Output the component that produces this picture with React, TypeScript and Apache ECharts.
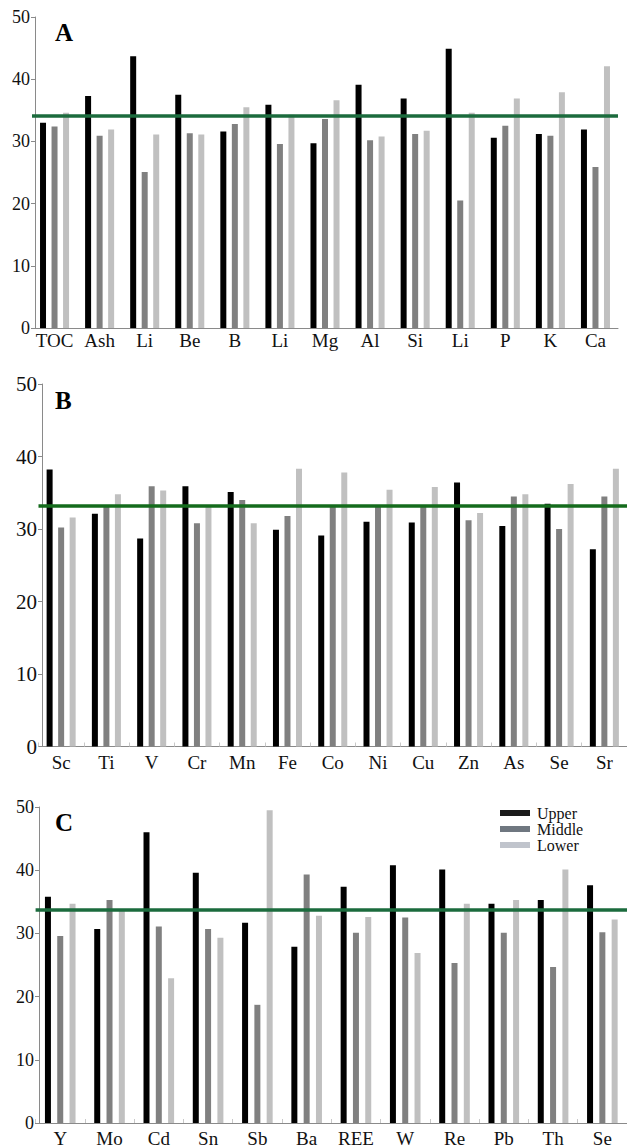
import React, { useEffect, useRef } from 'react';
import * as echarts from 'echarts';

// ---------- data ----------
const seriesNames = ['Upper', 'Middle', 'Lower'];

const categoriesA = ['TOC', 'Ash', 'Li', 'Be', 'B', 'Li', 'Mg', 'Al', 'Si', 'Li', 'P', 'K', 'Ca'];
const upperA = [33.0, 37.3, 43.7, 37.5, 31.6, 35.9, 29.7, 39.1, 36.9, 44.9, 30.6, 31.2, 31.9];
const middleA = [32.4, 30.9, 25.1, 31.3, 32.8, 29.6, 33.6, 30.2, 31.2, 20.5, 32.5, 30.9, 25.9];
const lowerA = [34.6, 31.9, 31.1, 31.1, 35.5, 34.3, 36.6, 30.8, 31.7, 34.6, 36.9, 37.9, 42.1];
const averageA = 34.2;

const categoriesB = ['Sc', 'Ti', 'V', 'Cr', 'Mn', 'Fe', 'Co', 'Ni', 'Cu', 'Zn', 'As', 'Se', 'Sr'];
const upperB = [38.2, 32.1, 28.7, 35.9, 35.1, 29.9, 29.1, 31.0, 30.9, 36.4, 30.4, 33.5, 27.2];
const middleB = [30.2, 33.1, 35.9, 30.8, 34.0, 31.8, 33.1, 33.1, 33.1, 31.2, 34.5, 30.0, 34.5];
const lowerB = [31.6, 34.8, 35.3, 33.1, 30.8, 38.3, 37.8, 35.4, 35.8, 32.2, 34.8, 36.2, 38.3];
const averageB = 33.2;

const categoriesC = ['Y', 'Mo', 'Cd', 'Sn', 'Sb', 'Ba', 'REE', 'W', 'Re', 'Pb', 'Th', 'Se'];
const upperC = [35.8, 30.7, 46.0, 39.6, 31.7, 27.9, 37.4, 40.8, 40.1, 34.7, 35.3, 37.6];
const middleC = [29.6, 35.3, 31.1, 30.7, 18.7, 39.3, 30.1, 32.5, 25.3, 30.1, 24.7, 30.2];
const lowerC = [34.7, 33.7, 22.9, 29.3, 49.5, 32.8, 32.6, 26.9, 34.7, 35.3, 40.1, 32.2];
const averageC = 33.8;

const panelLetters = ['A', 'B', 'C'];
const yMin = 0;
const yMax = 50;
const yInterval = 10;

// ---------- styling ----------
const SERIF = 'Liberation Serif';
const barColors = ['#000000', '#808080', '#c0c0c0'];
const legendColors = ['#1a1a1a', '#6f7780', '#c0c4cc'];

export default function App() {
  const ref = useRef<HTMLDivElement>(null);

  useEffect(() => {
    if (!ref.current) return;
    const chart = echarts.init(ref.current, null, { renderer: 'svg' });

    const panels = [
      {
        cats: categoriesA, vals: [upperA, middleA, lowerA], avg: averageA,
        grid: { left: 32, top: 17, width: 586, height: 311 },
        yOffset: -3, yFont: 18, xFont: 19, xMargin: 3, barGap: '92%', ticks: false,
        lineColor: '#1b6b3d', letterY: 20,
      },
      {
        cats: categoriesB, vals: [upperB, middleB, lowerB], avg: averageB,
        grid: { left: 38.5, top: 384, width: 598.6, height: 362.5 },
        yOffset: -3.5, yFont: 21, xFont: 19, xMargin: 6, barGap: '92%', ticks: true,
        lineColor: '#146b1c', letterY: 388,
      },
      {
        cats: categoriesC, vals: [upperC, middleC, lowerC], avg: averageC,
        grid: { left: 35.6, top: 807, width: 592.3, height: 316.5 },
        yOffset: -3.4, yFont: 18, xFont: 19, xMargin: 6, barGap: '105%', ticks: true,
        lineColor: '#1b6b3d', letterY: 810,
      },
    ];

    const grids: any[] = [];
    const xAxes: any[] = [];
    const yAxes: any[] = [];
    const series: any[] = [];
    const graphics: any[] = [];

    panels.forEach((p, i) => {
      grids.push({ ...p.grid, containLabel: false });
      xAxes.push({
        type: 'category',
        gridIndex: i,
        data: p.cats,
        boundaryGap: true,
        axisLine: { show: true, lineStyle: { color: '#8a8a8a', width: 1 } },
        axisTick: {
          show: p.ticks, inside: true, length: 4, alignWithLabel: false,
          lineStyle: { color: '#c8c8c8' },
        },
        axisLabel: {
          interval: 0, margin: p.xMargin, color: '#111',
          fontFamily: SERIF, fontSize: p.xFont,
        },
        splitLine: { show: false },
      });
      yAxes.push({
        type: 'value',
        gridIndex: i,
        min: yMin, max: yMax, interval: yInterval,
        offset: p.yOffset,
        axisLine: { show: true, lineStyle: { color: '#8a8a8a', width: 1 } },
        axisTick: { show: true, length: 4, lineStyle: { color: '#8a8a8a' } },
        axisLabel: { margin: 5, color: '#111', fontFamily: SERIF, fontSize: p.yFont },
        splitLine: { show: false },
      });
      seriesNames.forEach((name, k) => {
        const s: any = {
          type: 'bar',
          name,
          xAxisIndex: i,
          yAxisIndex: i,
          data: p.vals[k],
          barWidth: 6,
          barGap: p.barGap,
          itemStyle: { color: barColors[k] },
          emphasis: { disabled: true },
        };
        if (k === 0) {
          s.markLine = {
            silent: true,
            symbol: 'none',
            label: { show: false },
            lineStyle: { color: p.lineColor, width: 3.5, type: 'solid' },
            data: [{ yAxis: p.avg }],
            z: 10,
          };
        }
        series.push(s);
      });
      graphics.push({
        type: 'text',
        left: 55,
        top: p.letterY,
        style: {
          text: panelLetters[i],
          fontFamily: SERIF,
          fontWeight: 'bold',
          fontSize: 25,
          fill: '#000',
        },
      });
    });

    chart.setOption({
      animation: false,
      backgroundColor: '#ffffff',
      grid: grids,
      xAxis: xAxes,
      yAxis: yAxes,
      series,
      graphic: graphics,
      legend: {
        orient: 'vertical',
        left: 495,
        top: 800,
        itemWidth: 30,
        itemHeight: 6,
        itemGap: 0,
        icon: 'rect',
        selectedMode: false,
        textStyle: { fontFamily: SERIF, fontSize: 16, color: '#111', padding: [0, 0, 0, 2] },
        data: seriesNames.map((n, k) => ({ name: n, itemStyle: { color: legendColors[k] } })),
      },
    });

    return () => chart.dispose();
  }, []);

  return (
    <div
      ref={ref}
      style={{ position: 'fixed', left: 0, top: 0, width: 627, height: 1148, background: '#fff' }}
    />
  );
}
